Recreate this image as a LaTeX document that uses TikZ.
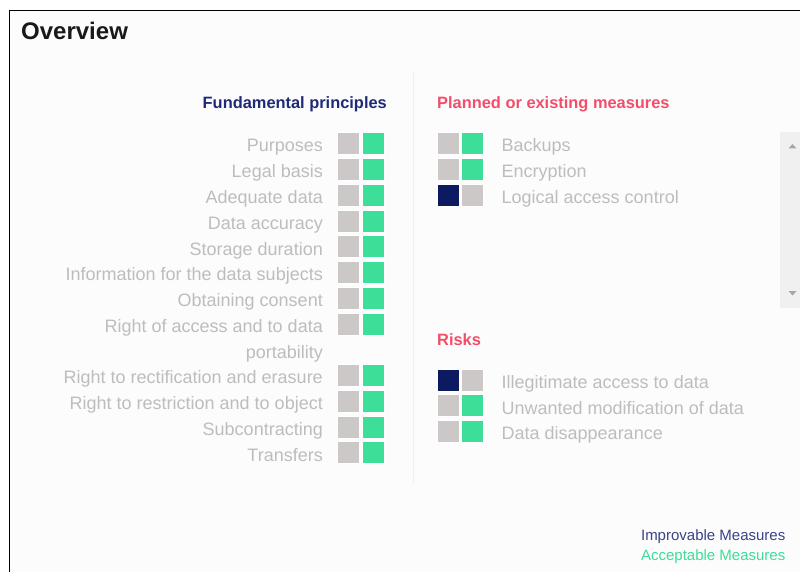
\documentclass[tikz,border=0pt]{standalone}
\usepackage{fontspec}
\setmainfont{Liberation Sans}
\usepackage{xcolor}
\usepackage{tikz}

\definecolor{panelbg}{HTML}{FCFCFC}
\definecolor{labelgray}{HTML}{BDBDBD}
\definecolor{boxgray}{HTML}{CDC8C8}
\definecolor{boxgreen}{HTML}{3DDF98}
\definecolor{boxnavy}{HTML}{0C1B61}
\definecolor{headnavy}{HTML}{1E2A78}
\definecolor{headred}{HTML}{F24E6A}
\definecolor{legendnavy}{HTML}{3A4488}
\definecolor{dividergray}{HTML}{EFEFEF}
\definecolor{scrollgray}{HTML}{F0F0F0}

\tikzset{
  lbl/.style={anchor=base east, inner sep=0pt, text=labelgray, font=\fontsize{18}{20}\selectfont},
  rlbl/.style={anchor=base west, inner sep=0pt, text=labelgray, font=\fontsize{18}{20}\selectfont},
  head/.style={inner sep=0pt, font=\fontsize{16.4}{18}\selectfont\bfseries},
  legend/.style={anchor=base east, inner sep=0pt, font=\fontsize{15}{17}\selectfont},
  greybox/.style={fill=boxgray, draw=white, line width=0.5pt},
  greenbox/.style={fill=boxgreen, draw=white, line width=0.5pt},
  navybox/.style={fill=boxnavy, draw=white, line width=0.5pt}
}

\begin{document}
\begin{tikzpicture}[x=1pt, y=-1pt]
    \useasboundingbox (0,0) rectangle (800,572);
    % panel
    \fill[white] (0,0) rectangle (800,572);
    \fill[panelbg] (9.5,11) rectangle (800,572);
    \draw[black, line width=1pt] (9.5,572) -- (9.5,11) -- (800,11);
    \node[head, anchor=base west, font=\fontsize{24}{26}\selectfont\bfseries, text=black!90] (overview) at (21,40) {Overview};
    \draw[dividergray, line width=1pt] (413,71) -- (413,483);

    % fundamental principles
    \node[head, anchor=base east, text=headnavy] (fundamental) at (387,109) {Fundamental principles};
    \node[lbl] (purposes) at (323,152) {Purposes};
    \path[greybox] (337,132.5) rectangle ++(22,22); \path[greenbox] (362,132.5) rectangle ++(22,22);
    \node[lbl] (legalbasis) at (323,177.75) {Legal basis};
    \path[greybox] (337,158.25) rectangle ++(22,22); \path[greenbox] (362,158.25) rectangle ++(22,22);
    \node[lbl] (adequate) at (323,203.5) {Adequate data};
    \path[greybox] (337,184) rectangle ++(22,22); \path[greenbox] (362,184) rectangle ++(22,22);
    \node[lbl] (accuracy) at (323,229.25) {Data accuracy};
    \path[greybox] (337,209.75) rectangle ++(22,22); \path[greenbox] (362,209.75) rectangle ++(22,22);
    \node[lbl] (storage) at (323,255) {Storage duration};
    \path[greybox] (337,235.5) rectangle ++(22,22); \path[greenbox] (362,235.5) rectangle ++(22,22);
    \node[lbl] (information) at (323,280.75) {Information for the data subjects};
    \path[greybox] (337,261.25) rectangle ++(22,22); \path[greenbox] (362,261.25) rectangle ++(22,22);
    \node[lbl] (consent) at (323,306.5) {Obtaining consent};
    \path[greybox] (337,287) rectangle ++(22,22); \path[greenbox] (362,287) rectangle ++(22,22);
    \node[lbl] (access) at (323,332.25) {Right of access and to data};
    \node[lbl] (portability) at (323,358) {portability};
    \path[greybox] (337,312.75) rectangle ++(22,22); \path[greenbox] (362,312.75) rectangle ++(22,22);
    \node[lbl] (rectification) at (323,383.75) {Right to rectification and erasure};
    \path[greybox] (337,364.25) rectangle ++(22,22); \path[greenbox] (362,364.25) rectangle ++(22,22);
    \node[lbl] (restriction) at (323,409.5) {Right to restriction and to object};
    \path[greybox] (337,390) rectangle ++(22,22); \path[greenbox] (362,390) rectangle ++(22,22);
    \node[lbl] (subcontracting) at (323,435.25) {Subcontracting};
    \path[greybox] (337,415.75) rectangle ++(22,22); \path[greenbox] (362,415.75) rectangle ++(22,22);
    \node[lbl] (transfers) at (323,461) {Transfers};
    \path[greybox] (337,441.5) rectangle ++(22,22); \path[greenbox] (362,441.5) rectangle ++(22,22);

    % planned or existing measures
    \node[head, anchor=base west, text=headred] (measures) at (437,109) {Planned or existing measures};
    \path[greybox] (437,132.5) rectangle ++(22,22); \path[greenbox] (461,132.5) rectangle ++(22,22);
    \node[rlbl] (backups) at (501.5,152) {Backups};
    \path[greybox] (437,158.25) rectangle ++(22,22); \path[greenbox] (461,158.25) rectangle ++(22,22);
    \node[rlbl] (encryption) at (501.5,177.75) {Encryption};
    \path[navybox] (437,184) rectangle ++(22,22); \path[greybox] (461,184) rectangle ++(22,22);
    \node[rlbl] (logical) at (501.5,203.5) {Logical access control};

    % scrollbar
    \fill[scrollgray] (780,132) rectangle (800,308);
    \fill[black!35] (788.5,148.5) -- (796.5,148.5) -- (792.5,144) -- cycle;
    \fill[black!35] (788.5,291) -- (796.5,291) -- (792.5,295.5) -- cycle;

    % risks
    \node[head, anchor=base west, text=headred] (risks) at (437,345) {Risks};
    \path[navybox] (437,369) rectangle ++(22,22); \path[greybox] (461,369) rectangle ++(22,22);
    \node[rlbl] (illegitimate) at (501.5,388.5) {Illegitimate access to data};
    \path[greybox] (437,394.6) rectangle ++(22,22); \path[greenbox] (461,394.6) rectangle ++(22,22);
    \node[rlbl] (modification) at (501.5,414) {Unwanted modification of data};
    \path[greybox] (437,420.2) rectangle ++(22,22); \path[greenbox] (461,420.2) rectangle ++(22,22);
    \node[rlbl] (disappearance) at (501.5,439.7) {Data disappearance};

    % legend
    \node[legend, text=legendnavy] (improvable) at (785.5,540.7) {Improvable Measures};
    \node[legend, text=boxgreen] (acceptable) at (785.5,560.7) {Acceptable Measures};
\end{tikzpicture}
\end{document}
